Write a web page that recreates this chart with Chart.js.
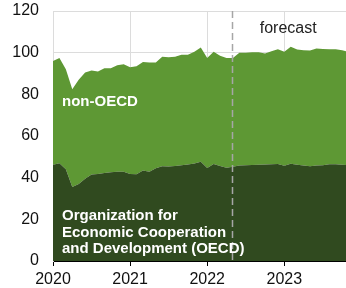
<!DOCTYPE html>
<html>
<head>
<meta charset="utf-8">
<script src="https://cdn.jsdelivr.net/npm/chart.js@4/dist/chart.umd.min.js"></script>
<style>
html,body{margin:0;padding:0;background:#fff;}
#wrap{width:346px;height:288px;}
</style>
</head>
<body>
<div id="wrap"><canvas id="c" width="346" height="288"></canvas></div>
<script>
const months = [
'2020-01','2020-02','2020-03','2020-04','2020-05','2020-06','2020-07','2020-08','2020-09','2020-10','2020-11','2020-12',
'2021-01','2021-02','2021-03','2021-04','2021-05','2021-06','2021-07','2021-08','2021-09','2021-10','2021-11','2021-12',
'2022-01','2022-02','2022-03','2022-04','2022-05','2022-06','2022-07','2022-08','2022-09','2022-10','2022-11','2022-12',
'2023-01','2023-02','2023-03','2023-04','2023-05','2023-06','2023-07','2023-08','2023-09','2023-10','2023-11','2023-12'];
const oecd = [
46.2,46.9,44.0,35.5,37.0,39.5,41.5,41.8,42.3,42.6,42.8,42.8,
41.8,41.7,43.5,42.8,44.5,45.5,45.4,45.6,46.0,46.3,46.8,47.6,
44.6,46.6,45.6,44.8,45.2,45.9,46.0,46.1,46.2,46.3,46.5,46.6,
45.7,46.7,46.2,45.8,45.5,45.8,46.0,46.4,46.5,46.2,46.0,46.0];
const nonOecd = [
49.8,50.6,48.0,47.0,50.0,51.0,50.0,49.2,50.2,49.9,51.2,51.7,
51.2,51.8,52.0,52.5,50.8,52.5,52.4,52.5,53.0,52.7,53.7,54.9,
52.9,53.9,52.9,52.7,52.3,54.1,54.0,54.1,54.0,53.3,54.2,55.0,
54.8,56.1,55.3,55.4,55.5,56.2,55.8,55.2,55.1,55.0,54.3,54.5];
const yearTicks = [2020, 2021, 2022, 2023];
const yTicks = [0, 20, 40, 60, 80, 100, 120];
const forecastStart = '2022-05';
const labelForecast = 'forecast';
const labelNonOecd = 'non-OECD';
const labelOecd = ['Organization for', 'Economic Cooperation', 'and Development (OECD)'];

function monthToX(m){ const p = m.split('-'); return parseInt(p[0]) + (parseInt(p[1]) - 1) / 12; }
const xs = months.map(monthToX);

const FONT = "'Liberation Sans', Arial, sans-serif";

const annot = {
  id: 'annot',
  afterDatasetsDraw(chart){
    const {ctx, chartArea, scales} = chart;
    const x = scales.x, y = scales.y;
    ctx.save();
    const fx = Math.round(x.getPixelForValue(monthToX(forecastStart))) - 0.5;
    ctx.strokeStyle = '#a6a6a6';
    ctx.lineWidth = 1.5;
    ctx.setLineDash([7, 4]);
    ctx.beginPath();
    ctx.moveTo(fx, chartArea.top);
    ctx.lineTo(fx, chartArea.bottom);
    ctx.stroke();
    ctx.setLineDash([]);
    ctx.fillStyle = '#222';
    ctx.font = '16px ' + FONT;
    ctx.textAlign = 'center';
    ctx.textBaseline = 'alphabetic';
    ctx.fillText(labelForecast, x.getPixelForValue(2023.05), y.getPixelForValue(109.5));
    ctx.fillStyle = '#fff';
    ctx.font = 'bold 15px ' + FONT;
    ctx.textAlign = 'left';
    const lx = chartArea.left + 9;
    ctx.fillText(labelNonOecd, lx, y.getPixelForValue(74.4));
    labelOecd.forEach((t, i) => {
      ctx.fillText(t, lx, y.getPixelForValue(19.7) + i * 16.7);
    });
    ctx.restore();
  }
};

new Chart(document.getElementById('c'), {
  type: 'line',
  data: {
    datasets: [
      {
        label: 'OECD',
        data: xs.map((v, i) => ({x: v, y: oecd[i]})),
        backgroundColor: '#304a1f',
        borderColor: '#304a1f',
        borderWidth: 0,
        pointRadius: 0,
        fill: 'origin',
        tension: 0
      },
      {
        label: 'non-OECD',
        data: xs.map((v, i) => ({x: v, y: nonOecd[i]})),
        backgroundColor: '#5e9834',
        borderColor: '#5e9834',
        borderWidth: 0,
        pointRadius: 0,
        fill: '-1',
        tension: 0
      }
    ]
  },
  options: {
    responsive: false,
    animation: false,
    layout: {padding: {left: 0, top: 11, right: 0, bottom: 0}},
    plugins: {legend: {display: false}, tooltip: {enabled: false}},
    scales: {
      x: {
        type: 'linear',
        min: 2020,
        max: 2023.8,
        afterBuildTicks(scale){ scale.ticks = yearTicks.map(v => ({value: v})); },
        afterFit(scale){ scale.height = 27; scale.paddingLeft = 0; scale.paddingRight = 0; },
        grid: {color: '#dcdcdc', tickColor: '#000', tickLength: 5, lineWidth: 1},
        border: {color: '#000', width: 1},
        ticks: {
          color: '#111',
          font: {family: FONT, size: 16, lineHeight: 1.0},
          padding: 6,
          maxRotation: 0,
          callback: v => String(v)
        }
      },
      y: {
        stacked: true,
        min: 0,
        max: 120,
        afterBuildTicks(scale){ scale.ticks = yTicks.map(v => ({value: v})); },
        afterFit(scale){ scale.width = 53; scale.paddingTop = 0; scale.paddingBottom = 0; },
        grid: {color: '#dcdcdc', drawTicks: false},
        border: {color: '#dcdcdc'},
        ticks: {
          color: '#111',
          font: {family: FONT, size: 16},
          padding: 14
        }
      }
    }
  },
  plugins: [annot]
});
</script>
</body>
</html>
